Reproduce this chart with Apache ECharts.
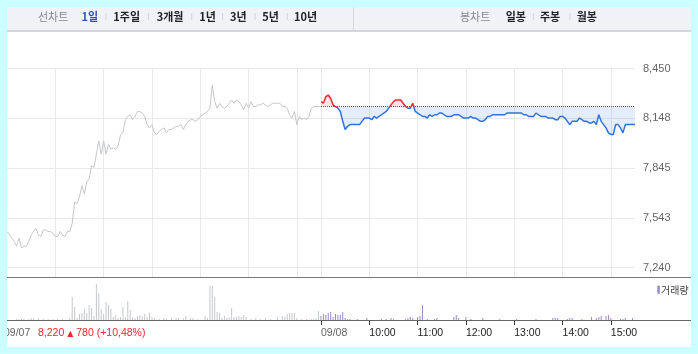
<!DOCTYPE html>
<html>
<head>
<meta charset="utf-8">
<script src="https://cdn.jsdelivr.net/npm/echarts@6/dist/echarts.min.js"></script>
<style>
  body { margin: 0; background: #ccffff; }
  #main { position: absolute; left: 7px; top: 7px; width: 684px; height: 340px; background: #fff; }
</style>
</head>
<body>
<div id="main"></div>
<script>
// 3분 간격, 09/07 09:00 ~ 15:30 (131개, 마지막 = 종가)
const day1Price = [
  7460, 7440, 7420, 7400, 7370, 7420, 7360, 7370, 7370, 7400,
  7440, 7460, 7480, 7440, 7430, 7470, 7470, 7460, 7460, 7450,
  7430, 7430, 7460, 7440, 7430, 7460, 7460, 7510, 7640, 7630,
  7670, 7740, 7690, 7760, 7780, 7860, 7850, 7930, 8010, 7930,
  8010, 7930, 7990, 7960, 7970, 7960, 7980, 8050, 8060, 8140,
  8160, 8170, 8140, 8160, 8190, 8190, 8180, 8160, 8110, 8090,
  8110, 8060, 8050, 8070, 8080, 8090, 8060, 8080, 8080, 8090,
  8100, 8100, 8110, 8080, 8110, 8130, 8140, 8140, 8130, 8140,
  8160, 8170, 8180, 8190, 8210, 8350, 8250, 8210, 8240, 8220,
  8210, 8220, 8240, 8260, 8240, 8260, 8250, 8230, 8200, 8240,
  8210, 8250, 8220, 8220, 8230, 8230, 8240, 8230, 8220, 8230,
  8240, 8240, 8240, 8240, 8220, 8220, 8210, 8170, 8150, 8190,
  8110, 8160, 8140, 8150, 8140, 8160, 8210, 8220, 8220, 8220,
  8220
];
// 09/08 09:00 ~ 15:30
const day2Price = [
  8250, 8240, 8280, 8290, 8270, 8230, 8220, 8210, 8190, 8130,
  8080, 8100, 8110, 8110, 8110, 8110, 8110, 8130, 8150, 8150,
  8150, 8140, 8160, 8150, 8160, 8170, 8180, 8190, 8210, 8230,
  8250, 8260, 8260, 8260, 8240, 8220, 8210, 8210, 8240, 8190,
  8180, 8170, 8160, 8160, 8150, 8170, 8160, 8170, 8170, 8180,
  8180, 8170, 8160, 8160, 8160, 8170, 8170, 8170, 8160, 8150,
  8150, 8150, 8160, 8150, 8150, 8140, 8130, 8130, 8140, 8160,
  8160, 8170, 8170, 8170, 8170, 8170, 8170, 8180, 8180, 8180,
  8180, 8180, 8180, 8180, 8170, 8170, 8160, 8160, 8160, 8180,
  8170, 8160, 8160, 8160, 8150, 8150, 8150, 8140, 8140, 8160,
  8160, 8150, 8130, 8110, 8130, 8130, 8130, 8150, 8140, 8130,
  8130, 8120, 8120, 8130, 8110, 8170, 8130, 8110, 8090, 8060,
  8050, 8050, 8110, 8110, 8090, 8060, 8110, 8110, 8110, 8110,
  8110
];
// 거래량 (상대값)
const day1Vol = [
  0, 0, 0, 0, 1, 1, 1, 1, 0, 1,
  2, 2, 0, 2, 0, 1, 0, 1, 0, 1,
  0, 1, 0, 1, 0, 0, 2, 23, 13, 2,
  6, 7, 11, 7, 15, 12, 4, 36, 27, 11,
  6, 18, 15, 11, 3, 5, 2, 3, 13, 3,
  19, 10, 3, 2, 4, 5, 4, 6, 3, 7,
  3, 2, 0, 1, 0, 2, 1, 0, 2, 0,
  2, 2, 0, 2, 4, 0, 2, 2, 0, 1,
  0, 0, 4, 2, 34, 34, 23, 8, 7, 2,
  4, 2, 3, 12, 3, 3, 4, 3, 5, 3,
  0, 1, 0, 2, 0, 1, 0, 2, 0, 1,
  0, 0, 3, 0, 4, 3, 6, 7, 7, 7,
  2, 0, 1, 0, 1, 0, 1, 1, 2, 9
];
const day2Vol = [
  4, 6, 5, 7, 8, 3, 6, 5, 5, 8,
  2, 1, 1, 0, 0, 1, 0, 0, 0, 2,
  0, 0, 0, 0, 0, 1, 0, 1, 0, 2,
  1, 0, 0, 0, 0, 1, 2, 3, 2, 0,
  3, 4, 15, 0, 1, 0, 0, 1, 2, 0,
  0, 0, 0, 0, 0, 3, 5, 2, 0, 0,
  3, 0, 1, 0, 0, 0, 0, 2, 0, 0,
  0, 0, 0, 0, 1, 0, 0, 0, 0, 0,
  0, 1, 0, 0, 0, 0, 0, 0, 0, 1,
  0, 0, 0, 0, 0, 0, 2, 2, 2, 0,
  0, 0, 1, 2, 2, 0, 0, 0, 1, 0,
  0, 0, 3, 0, 2, 3, 4, 0, 4, 5,
  2, 0, 0, 0, 1, 1, 2, 0, 0, 2
];
const days = ['09/07', '09/08'];
const yTicks = [7240, 7542.5, 7845, 8147.5, 8450];
const prevClose = 8220;
const change = 780;
const changePct = '+10,48%';
const periodTabs = ['1일', '1주일', '3개월', '1년', '3년', '5년', '10년'];
const candleTabs = ['일봉', '주봉', '월봉'];

// 카테고리: 3분 간격
const times = [];
days.forEach(d => {
  for (let k = 0; k < 130; k++) {
    const m = 540 + k * 3;
    times.push(d + ' ' + String(Math.floor(m / 60)).padStart(2, '0') + ':' + String(m % 60).padStart(2, '0'));
  }
});
times.push('09/08 15:30');
const dayStart = 130;
const isHour = i => i > 0 && i < 260 && ((i <= dayStart && i % 20 === 0) || (i >= dayStart && (i - dayStart) % 20 === 0));
const isDay2Hour = i => i >= dayStart && i < 260 && (i - dayStart) % 20 === 0;

const chart = echarts.init(document.getElementById('main'));
const font = 'Liberation Sans, Noto Sans CJK KR';
const kfont = 'Noto Sans CJK KR';
const upColor = '#f0282d';
const downColor = '#2f72dc';

const graphics = [
  { type: 'rect', shape: { x: 0, y: 0, width: 684, height: 24 }, style: { fill: '#f1f2f6' }, z: 10 },
  { type: 'line', shape: { x1: 0, y1: 24, x2: 684, y2: 24 }, style: { stroke: '#c9c9d3', lineWidth: 1.5 }, z: 11 },
  { type: 'line', shape: { x1: 346.5, y1: 0, x2: 346.5, y2: 24 }, style: { stroke: '#d6d6de', lineWidth: 1 }, z: 11 },
  { type: 'line', shape: { x1: 0, y1: 270.5, x2: 684, y2: 270.5 }, style: { stroke: '#777', lineWidth: 1 }, z: 11 },
  { type: 'line', shape: { x1: 0, y1: 313.5, x2: 684, y2: 313.5 }, style: { stroke: '#666', lineWidth: 1 }, z: 11 },
  { type: 'text', x: 31, y: 9.5, style: { text: '선차트', fill: '#888', font: '11px ' + kfont, verticalAlign: 'middle' }, z: 12 },
  { type: 'text', x: 453, y: 9.5, style: { text: '봉차트', fill: '#888', font: '11px ' + kfont, verticalAlign: 'middle' }, z: 12 },
  { type: 'rect', shape: { x: 650.3, y: 278.7, width: 2.5, height: 8 }, style: { fill: '#9a88c9' }, z: 12 },
  { type: 'text', x: 654, y: 283.5, style: { text: '거래량', fill: '#444', font: '10px ' + kfont, verticalAlign: 'middle' }, z: 12 },
  { type: 'text', x: -3, y: 326.5, style: { text: days[0], fill: '#666', font: '10.5px ' + font, verticalAlign: 'middle' }, z: 12 },
  {
    type: 'text', x: 31, y: 326.5,
    style: {
      text: '{n|' + prevClose.toLocaleString('en-US') + ' }{a|▲}{n| ' + change + ' (' + changePct + ')}',
      verticalAlign: 'middle',
      rich: { n: { fill: upColor, font: '10.5px ' + font }, a: { fill: upColor, font: '8px DejaVu Sans' } }
    }, z: 12
  }
];
const tabX = [74.5, 106.3, 149.7, 192.3, 223, 255.3, 287];
periodTabs.forEach((t, i) => {
  graphics.push({ type: 'text', x: tabX[i], y: 9.5, style: { text: t, fill: i === 0 ? '#2b56b9' : '#222', font: 'bold 11px ' + kfont, verticalAlign: 'middle' }, z: 12 });
});
[99, 141.3, 184.7, 215.7, 248, 280.3].forEach(x => {
  graphics.push({ type: 'line', shape: { x1: x, y1: 6, x2: x, y2: 13 }, style: { stroke: '#d4d4d8', lineWidth: 1 }, z: 12 });
});
const candleX = [498.7, 533, 569.7];
candleTabs.forEach((t, i) => {
  graphics.push({ type: 'text', x: candleX[i], y: 9.5, style: { text: t, fill: '#222', font: 'bold 11px ' + kfont, verticalAlign: 'middle' }, z: 12 });
});
[526.3, 563].forEach(x => {
  graphics.push({ type: 'line', shape: { x1: x, y1: 6, x2: x, y2: 13 }, style: { stroke: '#d4d4d8', lineWidth: 1 }, z: 12 });
});

chart.setOption({
  animation: false,
  grid: [
    { left: -3, right: 56, top: 61.7, bottom: 70 },
    { left: -3, right: 56, top: 271, bottom: 27 }
  ],
  xAxis: [
    {
      type: 'category', gridIndex: 0, data: times, boundaryGap: false,
      axisLine: { show: false }, axisTick: { show: false }, axisLabel: { show: false },
      splitLine: { show: true, interval: i => isHour(i), lineStyle: { color: '#e9e9e9' } }
    },
    {
      type: 'category', gridIndex: 1, data: times, boundaryGap: false,
      axisLine: { show: false },
      axisTick: { show: true, interval: i => isDay2Hour(i), length: 5, lineStyle: { color: '#333' } },
      axisLabel: {
        interval: i => isDay2Hour(i),
        align: 'left', margin: 8,
        formatter: (v, i) => {
          if (i === dayStart) return '{d|' + v.slice(0, 5) + '}';
          return '{t|' + v.slice(6) + '}';
        },
        rich: {
          d: { color: '#666', fontSize: 10.5, fontFamily: font },
          t: { color: '#222', fontSize: 10.5, fontFamily: font }
        }
      },
      splitLine: { show: false }
    }
  ],
  yAxis: [
    {
      type: 'value', gridIndex: 0, position: 'right', min: 7183.5, max: 8450,
      axisLine: { show: false },
      axisTick: { show: false, customValues: yTicks },
      axisLabel: {
        customValues: yTicks, margin: 8, color: '#666', fontSize: 11, fontFamily: font,
        formatter: v => Math.round(v).toLocaleString('en-US')
      },
      splitLine: { show: true, lineStyle: { color: '#e9e9e9' } }
    },
    {
      type: 'value', gridIndex: 1, min: 0, max: 42,
      axisLine: { show: false }, axisTick: { show: false }, axisLabel: { show: false }, splitLine: { show: false }
    }
  ],
  series: [
    {
      type: 'line', xAxisIndex: 0, yAxisIndex: 0, data: day1Price, showSymbol: false,
      lineStyle: { color: '#c6c7cc', width: 1 }, itemStyle: { color: '#c6c7cc' }
    },
    {
      type: 'line', xAxisIndex: 0, yAxisIndex: 0,
      data: day2Price.map((v, j) => [dayStart + j, v]), showSymbol: false,
      lineStyle: { width: 1.5, color: downColor },
      areaStyle: { origin: prevClose, opacity: 0.13, color: downColor },
      markLine: {
        silent: true, symbol: ['none', 'none'], label: { show: false },
        lineStyle: { color: '#555', type: 'dotted', width: 1 },
        data: [[{ xAxis: dayStart, yAxis: prevClose }, { xAxis: 260, yAxis: prevClose }]]
      }
    },
    {
      type: 'bar', xAxisIndex: 1, yAxisIndex: 1, data: day1Vol, barWidth: 1,
      itemStyle: { color: '#c4c7cc' }
    },
    {
      type: 'bar', xAxisIndex: 1, yAxisIndex: 1, barWidth: 1, barGap: '-100%',
      data: day2Vol.map((v, j) => [dayStart + j, v]),
      itemStyle: { color: '#9a88c9' }
    }
  ],
  graphic: graphics
});

// 전일종가 기준 위/아래 색 분리 (픽셀 위치는 축 변환으로 구함)
const py = chart.convertToPixel({ gridIndex: 0 }, [dayStart, prevClose])[1];
const h = 340;
const split = (a, b) => new echarts.graphic.LinearGradient(0, 0, 0, h, [
  { offset: 0, color: a }, { offset: py / h, color: a },
  { offset: py / h, color: b }, { offset: 1, color: b }
], true);
chart.setOption({
  series: [{}, {
    lineStyle: { color: split(upColor, downColor) },
    areaStyle: { color: split(upColor, downColor) }
  }]
});
</script>
</body>
</html>
